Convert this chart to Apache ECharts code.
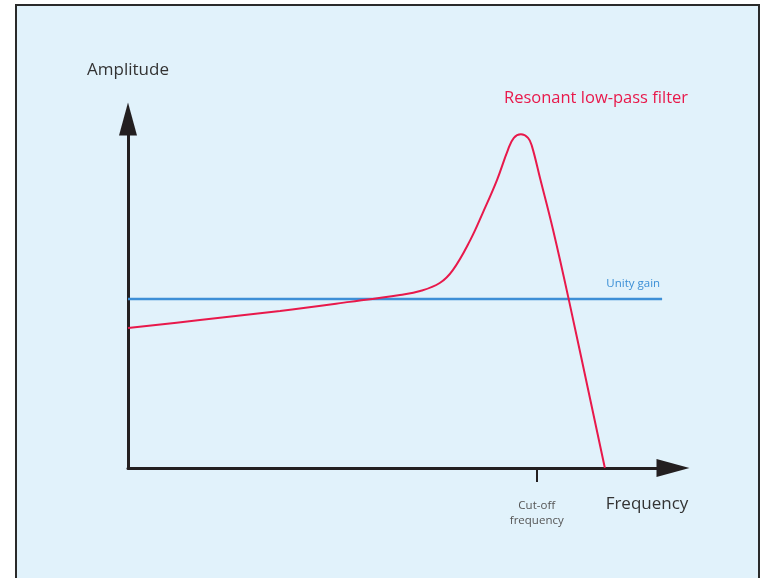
<!DOCTYPE html>
<html>
<head>
<meta charset="utf-8">
<script src="https://cdn.jsdelivr.net/npm/echarts@6/dist/echarts.min.js"></script>
<style>
html,body{margin:0;padding:0;background:#fff;}
#chart{width:761px;height:578px;}
</style>
</head>
<body>
<div id="chart"></div>
<script>
// Schematic response curve (arbitrary units, 0..100 on each axis)
const freq = [0, 13.2, 27.9, 40.7, 49.9, 53.6, 57.2, 59.6, 62.8, 65.1, 67.7, 69.7, 70.8, 72.1, 73.4, 74.1, 75.6, 78.0, 80.9, 87.5];
const amplitude = [40.1, 42.4, 45.0, 47.6, 49.6, 50.7, 53.0, 56.7, 65.3, 73.1, 82.5, 91.1, 94.6, 95.6, 94.6, 92.3, 83.1, 68.2, 48.1, 0];
const unityFreq = [0, 98];
const unityGain = [48.4, 48.4];
const cutoffFreq = 75;
const texts = {
  yName: 'Amplitude',
  xName: 'Frequency',
  filter: 'Resonant low-pass filter',
  unity: 'Unity gain',
  cutoff: 'Cut-off\nfrequency'
};

const chart = echarts.init(document.getElementById('chart'), null, {renderer: 'canvas'});
const axisColor = '#231f20';
const font = '"Open Sans", "Noto Sans", sans-serif';

const option = {
  backgroundColor: '#ffffff',
  animation: false,
  grid: {left: 128, top: 119, right: 88, bottom: 110, containLabel: false},
  xAxis: {
    type: 'value', min: 0, max: 100,
    splitLine: {show: false},
    axisLine: {show: true, onZero: false, symbol: ['none', 'triangle'], symbolSize: [18, 33],
      lineStyle: {color: axisColor, width: 3}},
    axisTick: {show: true, customValues: [cutoffFreq], length: 14, lineStyle: {color: axisColor, width: 2}},
    axisLabel: {show: true, customValues: [cutoffFreq], formatter: function () { return texts.cutoff; },
      color: '#555', fontFamily: font, fontSize: 11.5, lineHeight: 15, margin: 30}
  },
  yAxis: {
    type: 'value', min: 0, max: 100,
    splitLine: {show: false},
    axisLine: {show: true, onZero: false, symbol: ['none', 'triangle'], symbolSize: [18, 33],
      lineStyle: {color: axisColor, width: 3}},
    axisTick: {show: false},
    axisLabel: {show: false}
  },
  graphic: [
    {type: 'rect', z: -10, silent: true, shape: {x: 16, y: 5, width: 743, height: 600},
      style: {fill: '#e1f2fb', stroke: '#2a2a2a', lineWidth: 2}},
    {type: 'text', x: 128, y: 70, style: {text: texts.yName, align: 'center', verticalAlign: 'middle',
      font: '17px ' + font, fill: '#333'}},
    {type: 'text', x: 647, y: 504, style: {text: texts.xName, align: 'center', verticalAlign: 'middle',
      font: '17px ' + font, fill: '#333'}},
    {type: 'text', x: 596, y: 98, style: {text: texts.filter, align: 'center', verticalAlign: 'middle',
      font: '16.5px ' + font, fill: '#e8194b'}}
  ],
  series: [
    {
      type: 'line', name: 'unity',
      data: unityFreq.map(function (f, i) { return [f, unityGain[i]]; }),
      symbol: 'none',
      lineStyle: {color: '#3d8fd6', width: 2.5},
      markPoint: {
        silent: true,
        symbol: 'circle', symbolSize: 1,
        itemStyle: {color: 'rgba(0,0,0,0)'},
        label: {show: true, position: 'top', align: 'right', distance: 9, offset: [-2, 0],
          formatter: texts.unity, color: '#3b8fd6', fontFamily: font, fontSize: 11.5},
        data: [{coord: [unityFreq[unityFreq.length - 1], unityGain[unityGain.length - 1]]}]
      },
      z: 2
    },
    {
      type: 'line', name: 'filter',
      data: freq.map(function (f, i) { return [f, amplitude[i]]; }),
      smooth: 0.4,
      symbol: 'none',
      lineStyle: {color: '#e8194b', width: 2},
      z: 3
    }
  ]
};
chart.setOption(option);
</script>
</body>
</html>
